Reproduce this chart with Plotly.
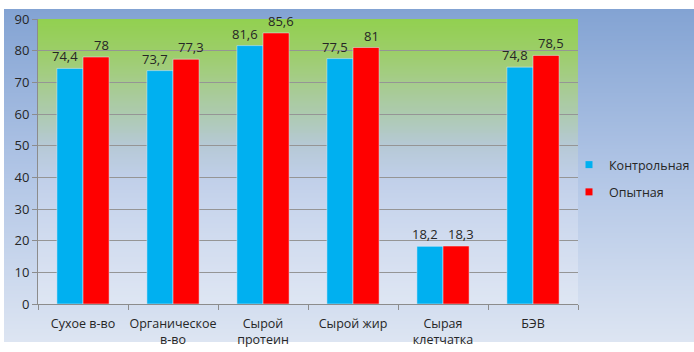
import base64
import struct
import zlib

import plotly.graph_objects as go

categories = ["Сухое в-во", "Органическое<br>в-во", "Сырой<br>протеин", "Сырой жир", "Сырая<br>клетчатка", "БЭВ"]
control = [74.4, 73.7, 81.6, 77.5, 18.2, 74.8]
experimental = [78, 77.3, 85.6, 81, 18.3, 78.5]
series_names = ["Контрольная", "Опытная"]
series_colors = ["#00b0f0", "#ff0000"]
y_ticks = [0, 10, 20, 30, 40, 50, 60, 70, 80, 90]


def fmt(v):
    return ("%g" % v).replace(".", ",")


def lerp(c1, c2, t):
    return tuple(int(round(a + (b - a) * t)) for a, b in zip(c1, c2))


def grad_png(stops, h=300, w=4):
    rows = []
    for r in range(h):
        t = (r + 0.5) / h
        c = stops[-1][1]
        for (ta, ca), (tb, cb) in zip(stops[:-1], stops[1:]):
            if ta <= t <= tb:
                c = lerp(ca, cb, (t - ta) / (tb - ta))
                break
        rows.append(b"\x00" + bytes(c) * w)
    raw = b"".join(rows)

    def chunk(tag, data):
        return struct.pack(">I", len(data)) + tag + data + struct.pack(">I", zlib.crc32(tag + data) & 0xffffffff)

    png = b"\x89PNG\r\n\x1a\n" + chunk(b"IHDR", struct.pack(">IIBBBBB", w, h, 8, 2, 0, 0, 0)) \
        + chunk(b"IDAT", zlib.compress(raw, 9)) + chunk(b"IEND", b"")
    return "data:image/png;base64," + base64.b64encode(png).decode()


outer_png = grad_png([(0.0, (131, 163, 211)), (0.5, (178, 198, 230)), (1.0, (221, 229, 242))])
inner_png = grad_png([(0.0, (146, 208, 80)), (0.111, (156, 206, 104)), (0.222, (166, 204, 140)),
                      (0.333, (173, 202, 176)), (0.444, (182, 201, 214)), (0.556, (192, 207, 233)),
                      (0.667, (201, 214, 237)), (0.778, (209, 220, 239)), (0.889, (216, 225, 241)),
                      (1.0, (222, 230, 243))])

FONT = "Open Sans"
fig = go.Figure()
for name, vals, col in zip(series_names, [control, experimental], series_colors):
    fig.add_trace(go.Bar(x=categories, y=vals, name=name, marker_color=col,
                         showlegend=False))
for i, (name, col) in enumerate(zip(series_names, series_colors)):
    fig.add_trace(go.Scatter(x=[None], y=[None], mode="markers", name=name,
                             marker=dict(symbol="square", size=7, color=col),
                             legendgroup="g%d" % i))

# value labels (blue ones sit slightly left, red ones slightly right, as in the original)
annotations = []
for vals, shift in [(control, -18), (experimental, 18)]:
    for cat, v in zip(categories, vals):
        annotations.append(dict(x=cat, y=v, xref="x", yref="y", text=fmt(v), showarrow=False,
                                xanchor="center", yanchor="bottom", xshift=shift, yshift=1,
                                font=dict(size=13, color="#262626")))

PL, PR, PT, PB = 38, 578, 19, 304
W, H = 694, 352
pw, ph = PR - PL, PB - PT


def px_x(x):
    return (x - PL) / pw


def px_y(y):
    return (PB - y) / ph


fig.update_layout(
    width=W, height=H,
    margin=dict(l=PL, r=W - PR, t=PT, b=H - PB, autoexpand=False),
    paper_bgcolor="white", plot_bgcolor="rgba(0,0,0,0)",
    images=[
        dict(source=outer_png, xref="paper", yref="paper", x=px_x(4), y=px_y(9),
             sizex=px_x(694) - px_x(4), sizey=px_y(9) - px_y(342), sizing="stretch",
             xanchor="left", yanchor="top", layer="below"),
        dict(source=inner_png, xref="paper", yref="paper", x=0, y=1, sizex=1, sizey=1,
             sizing="stretch", xanchor="left", yanchor="top", layer="below"),
    ],
    annotations=annotations,
    barmode="group", bargap=0.42, bargroupgap=0,
    font=dict(family=FONT, size=12, color="#262626"),
    legend=dict(x=px_x(569), y=px_y(150), xanchor="left", yanchor="top", bgcolor="rgba(0,0,0,0)",
                font=dict(size=12.5, color="#262626"), traceorder="grouped", tracegroupgap=8,
                itemwidth=30),
    showlegend=True,
)
fig.update_xaxes(showline=True, linecolor="#8c8c8c", linewidth=1, ticks="outside",
                 tickson="boundaries", ticklen=5, tickcolor="#8c8c8c", showgrid=False,
                 tickangle=0, automargin=False, ticklabelstandoff=8,
                 tickfont=dict(size=12.5, color="#262626"))
fig.update_yaxes(range=[0, 90], tickvals=y_ticks, showline=True, linecolor="#8c8c8c", linewidth=1,
                 ticks="outside", ticklen=5, tickcolor="#8c8c8c", showgrid=True,
                 gridcolor="#959595", gridwidth=1, zeroline=False, automargin=False,
                 tickfont=dict(size=13, color="#262626"))

fig.write_html("out.html")
